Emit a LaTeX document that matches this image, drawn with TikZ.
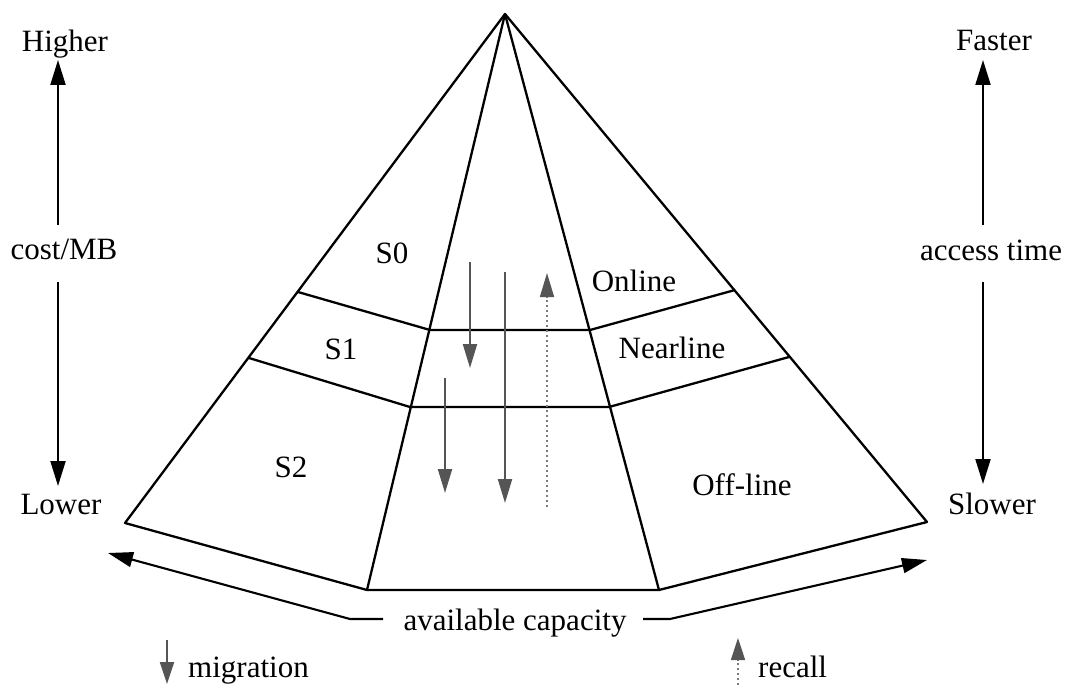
\documentclass[tikz,border=0pt]{standalone}
\usepackage{fontspec}
\setmainfont{Liberation Serif}
\usetikzlibrary{arrows.meta}
\definecolor{flowgray}{HTML}{555555}
\definecolor{recallgray}{HTML}{7A7A7A}
\tikzset{
  edge/.style={line width=2.3pt, line join=round, black},
  axisarrow/.style={line width=2.1pt, black, -{Triangle[length=25pt,width=15pt]}},
  migr/.style={line width=2.1pt, flowgray, -{Triangle[length=24pt,width=14pt]}},
  recl/.style={line width=1.6pt, recallgray, dash pattern=on 1.6pt off 3.4pt,
               -{Triangle[length=24pt,width=14pt,color=flowgray]}},
  lbl/.style={anchor=base, inner sep=0pt, font=\fontsize{31}{36}\selectfont},
}
\begin{document}
\begin{tikzpicture}[x=1pt,y=-1pt]
\useasboundingbox (0,0) rectangle (1069,685);

% pyramid vertices
\coordinate (apex) at (505,14);
\coordinate (bl)   at (125,523);
\coordinate (bml)  at (367,590);
\coordinate (bmr)  at (659,590);
\coordinate (br)   at (927,522);
% band boundaries
\coordinate (u1) at (298,292);
\coordinate (u2) at (430,330);
\coordinate (u3) at (590,330);
\coordinate (u4) at (735,290);
\coordinate (l1) at (249,358);
\coordinate (l2) at (410,407);
\coordinate (l3) at (609,407);
\coordinate (l4) at (789,357);

\draw[edge] (apex) -- (bl) -- (bml) -- (bmr) -- (br) -- cycle;
\draw[edge] (apex) -- (bml);
\draw[edge] (apex) -- (bmr);
\draw[edge] (u1) -- (u2) -- (u3) -- (u4);
\draw[edge] (l1) -- (l2) -- (l3) -- (l4);

% tier labels
\node[lbl] (s0) at (392,263) {S0};
\node[lbl] (s1) at (341,359) {S1};
\node[lbl] (s2) at (291,477) {S2};
\node[lbl] (online)   at (634,291) {Online};
\node[lbl] (nearline) at (672,358) {Nearline};
\node[lbl] (offline)  at (742,495) {Off-line};

% migration and recall flows
\coordinate (ma1) at (470,262); \coordinate (ma2) at (470,368);
\coordinate (mb1) at (505,272); \coordinate (mb2) at (505,503);
\coordinate (mc1) at (445,378); \coordinate (mc2) at (445,493);
\coordinate (r1)  at (547,507); \coordinate (r2)  at (547,273);
\draw[migr] (ma1) -- (ma2);
\draw[migr] (mb1) -- (mb2);
\draw[migr] (mc1) -- (mc2);
\draw[recl] (r1) -- (r2);

% cost axis
\node[lbl] (higher) at (65,52)  {Higher};
\node[lbl] (cost)   at (64,259) {cost/MB};
\node[lbl] (lower)  at (61,514) {Lower};
\coordinate (ct1) at (58,225); \coordinate (ct2) at (58,60);
\coordinate (cb1) at (58,282); \coordinate (cb2) at (58,486);
\draw[axisarrow] (ct1) -- (ct2);
\draw[axisarrow] (cb1) -- (cb2);

% access time axis
\node[lbl] (faster) at (994,51)  {Faster};
\node[lbl] (access) at (991,260) {access time};
\node[lbl] (slower) at (992,514) {Slower};
\coordinate (at1) at (983,225); \coordinate (at2) at (983,60);
\coordinate (ab1) at (983,282); \coordinate (ab2) at (983,484);
\draw[axisarrow] (at1) -- (at2);
\draw[axisarrow] (ab1) -- (ab2);

% capacity axis
\node[lbl] (cap) at (515,630) {available capacity};
\coordinate (cl0) at (383,619); \coordinate (cl1) at (350,619); \coordinate (cl2) at (108,553);
\coordinate (cr0) at (643,619); \coordinate (cr1) at (670,619); \coordinate (cr2) at (927,560);
\draw[axisarrow, line join=round] (cl0) -- (cl1) -- (cl2);
\draw[axisarrow, line join=round] (cr0) -- (cr1) -- (cr2);

% legend
\coordinate (lm1) at (167,640); \coordinate (lm2) at (167,684);
\draw[migr, -{Triangle[length=22pt,width=14pt]}] (lm1) -- (lm2);
\node[lbl, anchor=base west] (mig) at (188,677) {migration};
\coordinate (lr1) at (738,685); \coordinate (lr2) at (738,638);
\draw[recl, -{Triangle[length=22pt,width=14pt,color=flowgray]}] (lr1) -- (lr2);
\node[lbl, anchor=base west] (rec) at (758,677) {recall};
\end{tikzpicture}
\end{document}
